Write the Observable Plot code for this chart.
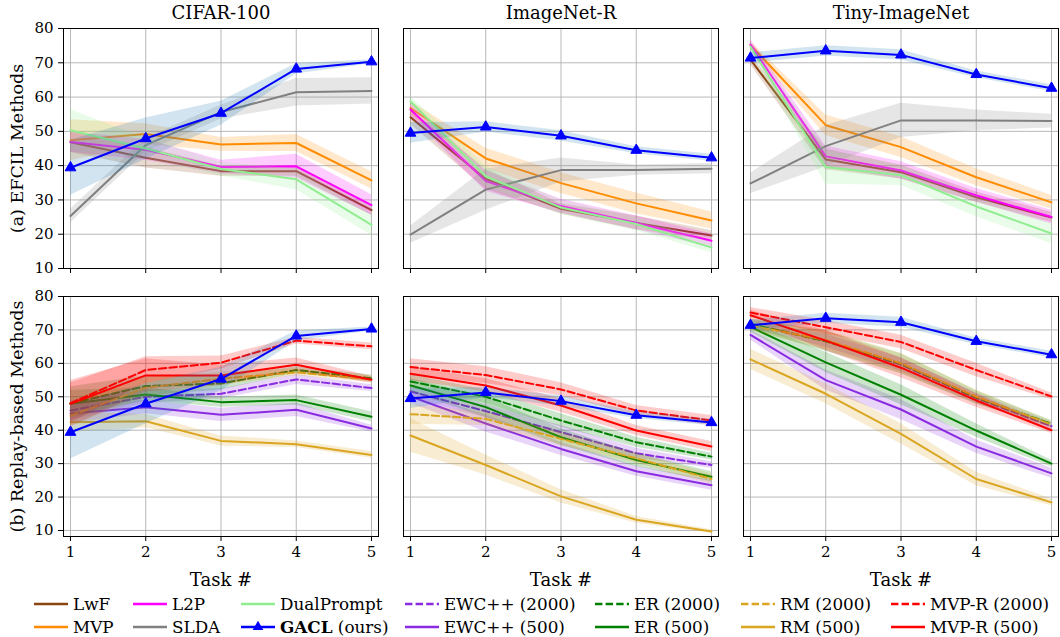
<!DOCTYPE html>
<html><head><meta charset="utf-8">
<script src="https://cdn.jsdelivr.net/npm/d3@7"></script>
<script src="https://cdn.jsdelivr.net/npm/@observablehq/plot@0.6"></script>
<style>
body{margin:0;background:#fff;font-family:"DejaVu Serif";}
#top,#bottom{display:block;line-height:0;height:auto}
#top svg,#bottom svg{display:block}
#legend{position:relative;width:1060px;height:45px;}
.item{position:absolute;display:flex;align-items:center;font-size:16.8px;height:20px;white-space:nowrap;color:#000}
.item svg{margin-right:5px;display:block}
</style></head><body>
<div id="top"></div><div id="bottom"></div><div id="legend"></div>
<script>
const datasets = ["CIFAR-100", "ImageNet-R", "Tiny-ImageNet"];
const tasks = [1, 2, 3, 4, 5];
const yTicks = [10, 20, 30, 40, 50, 60, 70, 80];
const rowLabels = ["(a) EFCIL Methods", "(b) Replay-based Methods"];
const efcilMethods = ["LwF", "MVP", "L2P", "SLDA", "DualPrompt", "GACL"];
const replayMethods = ["EWC++ (2000)", "EWC++ (500)", "ER (2000)", "ER (500)", "RM (2000)", "RM (500)", "MVP-R (2000)", "MVP-R (500)", "GACL"];

// mean accuracy: one row per dataset (CIFAR-100, ImageNet-R, Tiny-ImageNet), tasks 1..5
const accLwF = [[46.8, 42.3, 38.4, 38.4, 27.0], [54.1, 36.1, 27.4, 23.3, 19.6], [70.9, 41.8, 38.1, 30.8, 24.9]];
const accMVP = [[47.4, 49.2, 46.2, 46.6, 35.7], [56.8, 42.1, 34.9, 29.0, 24.0], [75.2, 51.8, 45.4, 36.6, 29.3]];
const accL2P = [[46.9, 44.6, 39.6, 39.8, 28.5], [56.4, 35.5, 28.2, 23.3, 18.1], [75.3, 42.7, 38.6, 31.3, 25.0]];
const accSLDA = [[25.3, 46.0, 55.6, 61.4, 61.8], [19.9, 33.0, 38.7, 38.7, 39.1], [34.8, 45.7, 53.2, 53.2, 53.0]];
const accDualPrompt = [[50.3, 45.0, 39.0, 36.0, 22.7], [58.7, 36.9, 27.8, 23.0, 16.1], [74.7, 39.6, 37.2, 28.1, 20.2]];
const accGACL = [[39.4, 47.9, 55.3, 68.2, 70.3], [49.5, 51.3, 48.7, 44.5, 42.3], [71.4, 73.5, 72.3, 66.6, 62.6]];
const accEWC2000 = [[45.9, 50.0, 50.9, 55.2, 52.6], [51.6, 45.7, 39.4, 33.1, 29.6], [71.5, 66.8, 59.6, 49.6, 41.2]];
const accEWC500 = [[45.0, 46.9, 44.6, 46.1, 40.5], [50.1, 42.0, 34.4, 27.7, 23.5], [68.5, 55.0, 46.2, 35.1, 27.1]];
const accER2000 = [[48.0, 53.2, 54.0, 58.0, 55.5], [54.6, 50.0, 42.9, 36.4, 32.1], [71.8, 66.6, 59.9, 49.8, 41.9]];
const accER500 = [[47.9, 50.7, 48.4, 49.0, 44.0], [53.4, 46.9, 37.9, 31.1, 26.1], [70.9, 60.3, 50.6, 39.9, 30.0]];
const accRM2000 = [[44.3, 52.7, 55.4, 57.3, 55.2], [44.8, 43.4, 37.4, 31.6, 25.4], [71.3, 67.0, 60.0, 50.0, 41.7]];
const accRM500 = [[42.4, 42.7, 36.8, 35.8, 32.6], [38.4, 29.6, 20.2, 13.2, 9.7], [61.2, 50.9, 38.9, 25.4, 18.4]];
const accMVPR2000 = [[48.1, 58.0, 60.2, 66.8, 65.1], [58.9, 56.5, 52.2, 45.9, 42.9], [75.2, 70.8, 66.4, 58.0, 50.1]];
const accMVPR500 = [[47.9, 56.4, 56.4, 59.6, 55.1], [56.9, 53.4, 47.4, 39.9, 35.1], [74.4, 66.8, 58.7, 48.9, 40.0]];

// spread (half-width of the shaded band)
const sdLwF = [[3, 3, 1.5, 1.5, 1.5], [2, 3, 1.5, 2, 1.5], [1.5, 3, 2, 1.5, 1.5]];
const sdMVP = [[6, 3, 2, 2.5, 2.5], [2, 3, 3, 3, 2.5], [1, 3, 3, 2.5, 2]];
const sdL2P = [[3, 3, 2, 3.5, 3], [2, 3, 2, 2, 2], [1.5, 3, 2.5, 2, 2]];
const sdSLDA = [[2, 2, 2, 4, 3.8], [2.5, 6, 3.5, 1.5, 1.5], [3, 6, 5, 3, 2]];
const sdDualPrompt = [[6, 3, 2, 3, 3], [1.5, 3, 2, 2, 1.5], [1.5, 5, 3, 3, 3]];
const sdGACL = [[8, 6, 3.5, 1.5, 0.6], [3, 1.5, 1.5, 1, 1], [1.5, 1.5, 1.5, 1, 1]];
const sdEWC2000 = [[3, 2, 1.5, 1.5, 1], [2, 2, 2, 1.5, 1], [1, 2, 2, 1.5, 1]];
const sdEWC500 = [[3, 2, 2, 2, 1], [2, 2.5, 2, 1.5, 1.5], [1.5, 3, 3, 2, 1.5]];
const sdER2000 = [[5, 3, 2, 1, 1], [2, 2, 2, 1.5, 1], [1.5, 3, 3, 2, 1]];
const sdER500 = [[4, 2, 1.5, 1.5, 1.5], [2, 3, 2.5, 2, 1.5], [1.5, 3, 3, 2, 1]];
const sdRM2000 = [[3, 3, 2, 1, 1], [3, 2, 2, 1.5, 1.5], [1.5, 3, 3, 2, 1]];
const sdRM500 = [[3, 2, 1.5, 1, 1], [5, 3, 2, 1, 0.5], [3, 3, 3, 2, 1]];
const sdMVPR2000 = [[6, 4, 2, 1, 1], [2.5, 2.5, 2, 1.5, 1.5], [1.5, 2, 2, 2, 1]];
const sdMVPR500 = [[7, 5, 3, 2, 1], [2, 2, 2, 1.5, 1.5], [1.5, 3, 3, 2, 1]];

const ACC = {"LwF": accLwF, "MVP": accMVP, "L2P": accL2P, "SLDA": accSLDA, "DualPrompt": accDualPrompt, "GACL": accGACL,
  "EWC++ (2000)": accEWC2000, "EWC++ (500)": accEWC500, "ER (2000)": accER2000, "ER (500)": accER500,
  "RM (2000)": accRM2000, "RM (500)": accRM500, "MVP-R (2000)": accMVPR2000, "MVP-R (500)": accMVPR500};
const SD = {"LwF": sdLwF, "MVP": sdMVP, "L2P": sdL2P, "SLDA": sdSLDA, "DualPrompt": sdDualPrompt, "GACL": sdGACL,
  "EWC++ (2000)": sdEWC2000, "EWC++ (500)": sdEWC500, "ER (2000)": sdER2000, "ER (500)": sdER500,
  "RM (2000)": sdRM2000, "RM (500)": sdRM500, "MVP-R (2000)": sdMVPR2000, "MVP-R (500)": sdMVPR500};
const STYLE = {
  "LwF": {c: "#8B4513"}, "MVP": {c: "#FF8C00"}, "L2P": {c: "#FF00FF"}, "SLDA": {c: "#808080"},
  "DualPrompt": {c: "#90EE90"}, "GACL": {c: "#0000FF", band: "#1f77b4", marker: true},
  "EWC++ (2000)": {c: "#8A2BE2", dash: true}, "EWC++ (500)": {c: "#8A2BE2"},
  "ER (2000)": {c: "#008000", dash: true}, "ER (500)": {c: "#008000"},
  "RM (2000)": {c: "#DAA520", dash: true}, "RM (500)": {c: "#DAA520"},
  "MVP-R (2000)": {c: "#FF0000", dash: true}, "MVP-R (500)": {c: "#FF0000"}
};

function makeRow(methods, rowLabel, yDomain, height, marginTop, marginBottom, bottom) {
  const marks = [
    Plot.gridX({ticks: tasks, stroke: "#b0b0b0", strokeOpacity: 1, strokeWidth: 0.9}),
    Plot.gridY({ticks: yTicks, stroke: "#b0b0b0", strokeOpacity: 1, strokeWidth: 0.9})
  ];
  for (const m of methods) {
    const rows = [];
    datasets.forEach((ds, i) => tasks.forEach((t, j) => {
      const v = ACC[m][i][j], s = SD[m][i][j];
      rows.push({ds, task: t, v, lo: v - s, hi: v + s});
    }));
    const st = STYLE[m];
    marks.push(Plot.areaY(rows, {x: "task", y1: "lo", y2: "hi", fx: "ds", fill: st.band || st.c, fillOpacity: 0.2}));
    marks.push(Plot.lineY(rows, {x: "task", y: "v", fx: "ds", stroke: st.c, strokeWidth: 2,
      strokeDasharray: st.dash ? "7.4,3.2" : null}));
    if (st.marker) marks.push(Plot.dot(rows, {x: "task", y: "v", fx: "ds", symbol: "triangle", r: 4, fill: st.c, stroke: st.c, strokeWidth: 1}));
  }
  marks.push(Plot.axisY({ticks: yTicks, tickSize: 5, tickPadding: 5, fontSize: 15, label: null, tickFormat: d => String(d)}));
  marks.push(Plot.axisX({ticks: tasks, tickSize: 5, tickPadding: 5, fontSize: 15, label: null,
    tickFormat: bottom ? (d => String(d)) : (() => "")}));
  marks.push(Plot.text([rowLabel], {fx: () => "CIFAR-100", text: d => d, frameAnchor: "left", rotate: -90, dx: -46,
    fontSize: 17.5, textAnchor: "middle", lineAnchor: "middle"}));
  if (!bottom) marks.push(Plot.text(datasets, {fx: d => d, text: d => d, frameAnchor: "top", dy: -15, lineAnchor: "middle", fontSize: 18}));
  if (bottom) marks.push(Plot.text(datasets, {fx: d => d, text: () => "Task #", frameAnchor: "bottom", dy: 44, lineAnchor: "middle", fontSize: 18}));
  marks.push(Plot.frame({stroke: "black", strokeWidth: 1}));
  return Plot.plot({
    width: 1060, height, marginLeft: 62, marginRight: 0, marginTop, marginBottom,
    style: {fontFamily: "DejaVu Serif", fontSize: "15px", background: "white", color: "black"},
    fx: {domain: datasets, paddingInner: 0.0733, paddingOuter: 0, axis: null, label: null},
    x: {domain: [0.907, 5.093], label: null},
    y: {domain: yDomain, label: null},
    marks
  });
}

document.getElementById("top").append(makeRow(efcilMethods, rowLabels[0], [10, 80], 280, 28, 12, false));
document.getElementById("bottom").append(makeRow(replayMethods, rowLabels[1], [8.2, 80], 312, 16, 56, true));

// legend (7 columns x 2 rows)
const legendCols = [
  ["LwF", "MVP"], ["L2P", "SLDA"], ["DualPrompt", "GACL"], ["EWC++ (2000)", "EWC++ (500)"],
  ["ER (2000)", "ER (500)"], ["RM (2000)", "RM (500)"], ["MVP-R (2000)", "MVP-R (500)"]
];
const legendX = [34, 133, 241, 405, 595, 741, 891];
const leg = document.getElementById("legend");
legendCols.forEach((col, ci) => col.forEach((m, ri) => {
  const st = STYLE[m];
  const div = document.createElement("div");
  div.className = "item";
  div.style.left = legendX[ci] + "px";
  div.style.top = (2 + ri * 23) + "px";
  let svg = `<svg width="34" height="20"><line x1="0" x2="34" y1="10" y2="10" stroke="${st.c}" stroke-width="2.5" ${st.dash ? 'stroke-dasharray="7.4,3.2"' : ""}/>`;
  if (st.marker) svg += `<path d="${d3.symbol(d3.symbolTriangle, 50)()}" transform="translate(17,10)" fill="${st.c}"/>`;
  svg += `</svg>`;
  const label = m === "GACL" ? `<b>GACL</b>&nbsp;(ours)` : m;
  div.innerHTML = svg + `<span>${label}</span>`;
  leg.append(div);
}));
</script></body></html>
